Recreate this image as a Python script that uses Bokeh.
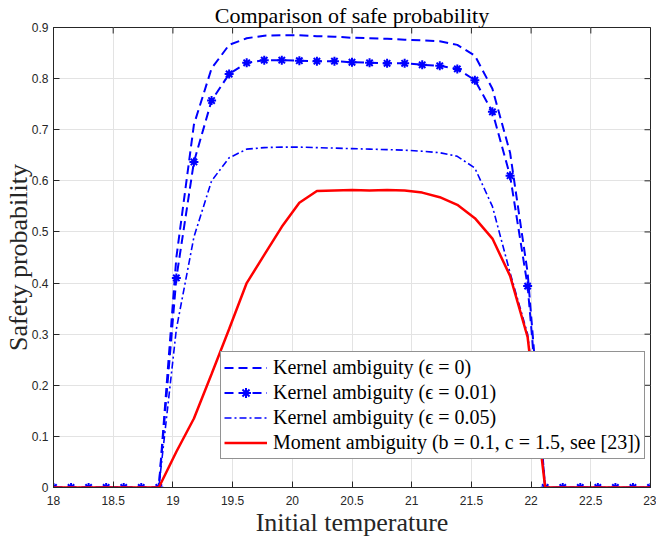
from bokeh.plotting import figure
from bokeh.models import Range1d, FixedTicker, Legend, LegendItem
from bokeh.embed import file_html
from bokeh.resources import INLINE

temperature = [18.000, 18.147, 18.294, 18.441, 18.588, 18.735, 18.882, 19.029,
               19.176, 19.324, 19.471, 19.618, 19.765, 19.912, 20.059, 20.206,
               20.353, 20.500, 20.647, 20.794, 20.941, 21.088, 21.235, 21.382,
               21.529, 21.676, 21.824, 21.971, 22.118, 22.265, 22.412, 22.559,
               22.706, 22.853, 23.000]

kernel_eps0 = [0, 0, 0, 0, 0, 0, 0, 0.45, 0.71, 0.82, 0.866, 0.879, 0.884,
               0.885, 0.885, 0.883, 0.882, 0.880, 0.879, 0.878, 0.876, 0.875,
               0.873, 0.866, 0.845, 0.78, 0.655, 0.42, 0, 0, 0, 0, 0, 0, 0]

kernel_eps001 = [0, 0, 0, 0, 0, 0, 0, 0.41, 0.637, 0.757, 0.809, 0.831, 0.836,
                 0.836, 0.835, 0.834, 0.834, 0.832, 0.831, 0.830, 0.830, 0.827,
                 0.825, 0.819, 0.797, 0.735, 0.61, 0.394, 0, 0, 0, 0, 0, 0, 0]

kernel_eps005 = [0, 0, 0, 0, 0, 0, 0, 0.31, 0.49, 0.60, 0.645, 0.662, 0.665,
                 0.666, 0.666, 0.665, 0.664, 0.663, 0.662, 0.661, 0.660, 0.658,
                 0.655, 0.648, 0.625, 0.55, 0.42, 0.30, 0, 0, 0, 0, 0, 0, 0]

moment = [0, 0, 0, 0, 0, 0, 0, 0.07, 0.135, 0.222, 0.31, 0.40, 0.455,
          0.51, 0.557, 0.58, 0.581, 0.582, 0.581, 0.582, 0.581, 0.577,
          0.568, 0.553, 0.527, 0.487, 0.414, 0.294, 0, 0, 0, 0, 0, 0, 0]

x_ticks = [18, 18.5, 19, 19.5, 20, 20.5, 21, 21.5, 22, 22.5, 23]
x_tick_labels = ["18", "18.5", "19", "19.5", "20", "20.5", "21", "21.5", "22", "22.5", "23"]
y_ticks = [0, 0.1, 0.2, 0.3, 0.4, 0.5, 0.6, 0.7, 0.8, 0.9]
y_tick_labels = ["0", "0.1", "0.2", "0.3", "0.4", "0.5", "0.6", "0.7", "0.8", "0.9"]

title_text = "Comparison of safe probability"
x_label = "Initial temperature"
y_label = "Safety probability"
labels = ["Kernel ambiguity (\u03f5 = 0)",
          "Kernel ambiguity (\u03f5 = 0.01)",
          "Kernel ambiguity (\u03f5 = 0.05)",
          "Moment ambiguity (b = 0.1, c = 1.5, see [23])"]

SERIF = "Liberation Serif"
SANS = "Liberation Sans"
AX = "#262626"

x0, x1 = x_ticks[0], x_ticks[-1]
y0, y1 = y_ticks[0], y_ticks[-1]

p = figure(width=656, height=539, output_backend="svg", toolbar_location=None,
           x_range=Range1d(x0, x1), y_range=Range1d(y0, y1),
           min_border_left=48, min_border_right=6, min_border_top=0,
           min_border_bottom=52, title=title_text)
p.title.align = "center"
p.title.text_font = SERIF
p.title.text_font_size = "22px"
p.title.text_font_style = "normal"
p.title.text_color = "black"
p.title.standoff = 0
p.title.offset = 0

p.outline_line_color = AX
p.outline_line_width = 1

xt = FixedTicker(ticks=x_ticks)
yt = FixedTicker(ticks=y_ticks)
p.xaxis.ticker = xt
p.yaxis.ticker = yt
p.xaxis.major_label_overrides = dict(zip(x_ticks, x_tick_labels))
p.yaxis.major_label_overrides = dict(zip(y_ticks, y_tick_labels))
for ax in (p.xaxis[0], p.yaxis[0]):
    ax.major_tick_in = 6
    ax.major_tick_out = 0
    ax.minor_tick_line_color = None
    ax.axis_line_color = AX
    ax.major_tick_line_color = AX
    ax.major_label_text_font = SANS
    ax.major_label_text_font_size = "12px"
    ax.major_label_text_color = AX
    ax.axis_label_text_font = SERIF
    ax.axis_label_text_font_style = "normal"
    ax.axis_label_text_color = AX
p.xaxis.axis_label = x_label
p.xaxis.axis_label_text_font_size = "26px"
p.xaxis.major_label_standoff = 8
p.xaxis.axis_label_standoff = 0
p.yaxis.axis_label = y_label
p.yaxis.axis_label_text_font_size = "26px"
p.yaxis.major_label_standoff = 5
p.yaxis.axis_label_standoff = -4

p.grid.grid_line_color = "#e3e3e3"
p.grid.grid_line_width = 1

# box ticks on top and right edges (half of each dash is clipped by the frame)
p.scatter(x_ticks, [y1] * len(x_ticks), marker="dash", size=12,
          angle=1.5708, line_color=AX, line_width=1)
p.scatter([x1] * len(y_ticks), y_ticks, marker="dash", size=12,
          line_color=AX, line_width=1)

r0 = p.line(temperature, kernel_eps0, line_color="blue", line_width=2,
            line_dash="9 5")
r1 = p.line(temperature, kernel_eps001, line_color="blue", line_width=2,
            line_dash="9 5")
r1m = p.scatter(temperature, kernel_eps001, marker="asterisk", size=9,
                line_color="blue", line_width=2)
r2 = p.line(temperature, kernel_eps005, line_color="blue", line_width=1.6,
            line_dash="7 3 2 3")
r3 = p.line(temperature, moment, line_color="red", line_width=2.5)

legend = Legend(items=[LegendItem(label=labels[0], renderers=[r0]),
                       LegendItem(label=labels[1], renderers=[r1, r1m]),
                       LegendItem(label=labels[2], renderers=[r2]),
                       LegendItem(label=labels[3], renderers=[r3])],
                location=(167, 28))
legend.label_text_font = SERIF
legend.label_text_font_size = "20px"
legend.label_text_color = "black"
legend.glyph_width = 43
legend.glyph_height = 25
legend.label_height = 25
legend.label_standoff = 6
legend.spacing = 0
legend.padding = 3
legend.margin = 0
legend.border_line_color = AX
legend.border_line_width = 1
legend.background_fill_alpha = 1
p.add_layout(legend)

open("out.html", "w").write(file_html(p, INLINE))
